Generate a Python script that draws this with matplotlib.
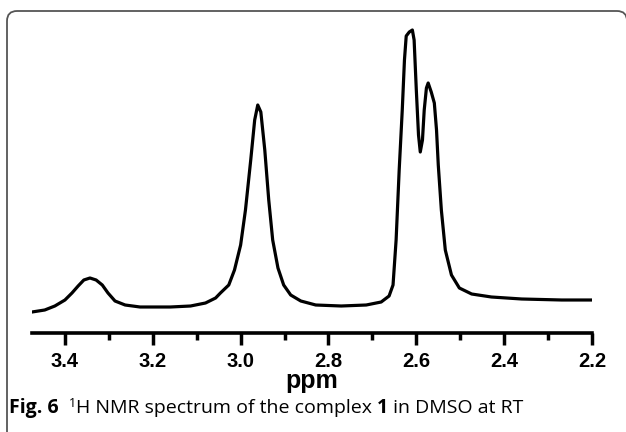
import matplotlib
matplotlib.use('Agg')
import matplotlib.pyplot as plt
from matplotlib.patches import FancyBboxPatch

# chemical shift (ppm) and intensity
ppm = [3.475, 3.446, 3.423, 3.400, 3.384, 3.370, 3.357, 3.343, 3.329, 3.315,
       3.302, 3.286, 3.263, 3.229, 3.160, 3.114, 3.080, 3.057, 3.046, 3.027,
       3.014, 3.000, 2.989, 2.977, 2.968, 2.961, 2.954, 2.945, 2.936, 2.927,
       2.915, 2.902, 2.886, 2.863, 2.829, 2.771, 2.714, 2.680, 2.662, 2.653,
       2.646, 2.639, 2.632, 2.627, 2.623, 2.616, 2.609, 2.605, 2.600, 2.595,
       2.591, 2.586, 2.582, 2.577, 2.573, 2.566, 2.559, 2.554, 2.550, 2.543,
       2.534, 2.520, 2.502, 2.474, 2.429, 2.360, 2.269, 2.200]
intensity = [21, 23, 27, 33, 40, 47, 53, 55, 53, 48,
             40, 32, 28, 26, 26, 27, 30, 35, 40, 48,
             63, 88, 123, 173, 213, 228, 221, 183, 133, 93,
             65, 48, 38, 32, 28, 27, 28, 31, 37, 48,
             93, 163, 223, 273, 297, 301, 303, 293, 243, 198,
             181, 193, 223, 245, 250, 241, 230, 203, 168, 123,
             83, 58, 45, 39, 36, 34, 33, 33]

major_ticks = [3.4, 3.2, 3.0, 2.8, 2.6, 2.4, 2.2]
minor_ticks = [3.3, 3.1, 2.9, 2.7, 2.5, 2.3]

W, H = 626, 432
fig = plt.figure(figsize=(W / 100, H / 100), dpi=100)

# rounded frame around figure + caption (inches, so the corner stays round)
frame = FancyBboxPatch((0.07, -0.5), 6.20, (H - 11) / 100 + 0.5,
                       boxstyle='round,pad=0,rounding_size=0.1',
                       transform=fig.dpi_scale_trans, fill=False,
                       edgecolor='#555555', linewidth=1.3)
fig.patches.append(frame)

ax = fig.add_axes([32 / W, (H - 333) / H, (592 - 32) / W, (333 - 15) / H])
ax.plot(ppm, intensity, color='black', linewidth=2.3)
ax.set_xlim(3.475, 2.2)
ax.set_ylim(0, 318)

for s in ['left', 'right', 'top']:
    ax.spines[s].set_visible(False)
ax.spines['bottom'].set_linewidth(2.6)
ax.set_yticks([])
ax.set_xticks(major_ticks)
ax.set_xticks(minor_ticks, minor=True)
ax.set_xticklabels([f'{t:.1f}' for t in major_ticks],
                   fontfamily='Liberation Sans', fontweight='bold', fontsize=14.5)
ax.tick_params(axis='x', which='major', direction='out', length=8.5, width=2.5, pad=5)
ax.tick_params(axis='x', which='minor', direction='out', length=5, width=2.5)
ax.set_xlabel('ppm', fontfamily='Liberation Sans', fontweight='bold', fontsize=18, labelpad=-1)

# caption, built piece by piece
pieces = [('Fig. 6', 'bold', 14, 0), ('  ', 'normal', 14, 0),
          ('1', 'normal', 9, 6), ('H NMR spectrum of the complex ', 'normal', 14, 0),
          ('1', 'bold', 14, 0), (' in DMSO at RT', 'normal', 14, 0)]
fig.canvas.draw()
r = fig.canvas.get_renderer()
x = 9
for txt, wt, sz, dy in pieces:
    t = fig.text(x / W, (H - 413 + dy) / H, txt, fontfamily='Open Sans',
                 fontweight=wt, fontsize=sz, ha='left', va='baseline')
    x += t.get_window_extent(r).width

fig.savefig('out.png', dpi=100)
